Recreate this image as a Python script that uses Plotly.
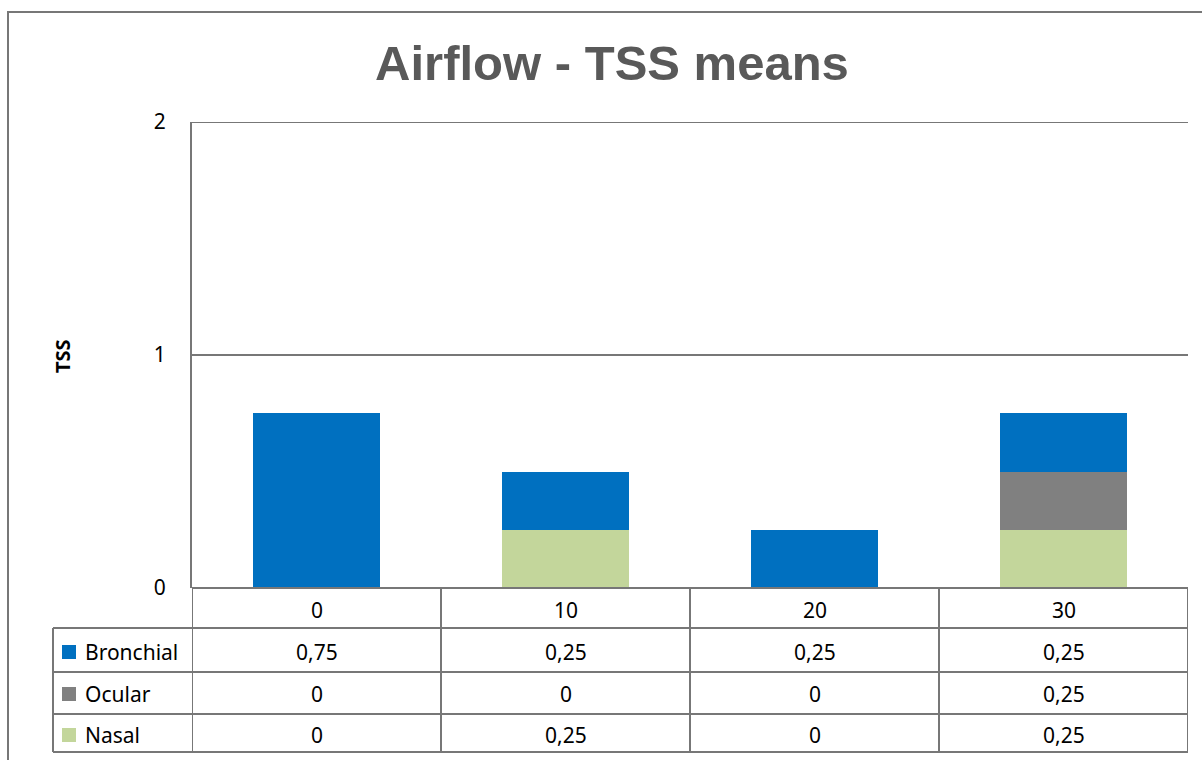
import plotly.graph_objects as go

# dados
categorias = ['0', '10', '20', '30']
series = ['Bronchial', 'Ocular', 'Nasal']
bronchial = [0.75, 0.25, 0.25, 0.25]
ocular = [0, 0, 0, 0.25]
nasal = [0, 0.25, 0, 0.25]
cores = {'Bronchial': '#0070C0', 'Ocular': '#808080', 'Nasal': '#C3D69B'}
valores = {'Bronchial': bronchial, 'Ocular': ocular, 'Nasal': nasal}
y_max = 2

W, H = 1202, 760
L, R, T, B = 192, 14, 122, 172
linha = '#777777'


def px(p):
    return (p - L) / (W - L - R)


def py(p):
    return (H - B - p) / (H - T - B)


def fmt(v):
    return f'{v:g}'.replace('.', ',')


fig = go.Figure()
# empilhamento: Nasal embaixo, Ocular no meio, Bronchial em cima
for s in ['Nasal', 'Ocular', 'Bronchial']:
    fig.add_trace(go.Bar(
        x=categorias,
        y=valores[s],
        name=s,
        marker_color=cores[s],
        marker_line_width=0,
        showlegend=False
    ))

shapes = []
annotations = []

# borda externa do gráfico (cortada à direita e embaixo)
shapes.append(dict(type='rect', xref='paper', yref='paper',
                   x0=px(8), x1=px(1230), y0=py(12), y1=py(800),
                   line=dict(color=linha, width=2)))

# linha de grade no topo (valor máximo do eixo)
shapes.append(dict(type='line', xref='paper', yref='y',
                   x0=0, x1=1, y0=y_max, y1=y_max,
                   line=dict(color=linha, width=2)))

# linhas da tabela
linhas_y = [588, 628, 672, 714, 752]
for i, yy in enumerate(linhas_y):
    x0 = px(192) if i == 0 else px(53)
    shapes.append(dict(type='line', xref='paper', yref='paper',
                       x0=x0, x1=1, y0=py(yy), y1=py(yy),
                       line=dict(color=linha, width=2)))
for i in range(len(categorias) + 1):
    shapes.append(dict(type='line', xref='x', yref='paper',
                       x0=i - 0.5, x1=i - 0.5, y0=py(588), y1=py(752),
                       line=dict(color=linha, width=2)))
shapes.append(dict(type='line', xref='paper', yref='paper',
                   x0=px(53), x1=px(53), y0=py(628), y1=py(752),
                   line=dict(color=linha, width=2)))

fonte = dict(family='Noto Sans', size=21, color='#000000')

# cabeçalho das categorias
for i, c in enumerate(categorias):
    annotations.append(dict(x=i, y=py(610), xref='x', yref='paper', text=c,
                            showarrow=False, xanchor='center', yanchor='middle', font=fonte))

# linhas das séries
centros = {'Bronchial': 652, 'Ocular': 694, 'Nasal': 735}
for s in series:
    yc = py(centros[s])
    shapes.append(dict(type='rect', xref='paper', yref='paper',
                       x0=px(62), x1=px(76), y0=yc - 7 / 466, y1=yc + 7 / 466,
                       fillcolor=cores[s], line=dict(width=0)))
    annotations.append(dict(x=px(83), y=yc, xref='paper', yref='paper', text=s,
                            showarrow=False, xanchor='left', yanchor='middle', font=fonte))
    for i, v in enumerate(valores[s]):
        annotations.append(dict(x=i, y=yc, xref='x', yref='paper', text=fmt(v),
                                showarrow=False, xanchor='center', yanchor='middle', font=fonte))

# título do eixo y
annotations.append(dict(x=px(62), y=py(356), xref='paper', yref='paper', text='<b>TSS</b>',
                        showarrow=False, textangle=-90, xanchor='center', yanchor='middle',
                        font=dict(family='Noto Sans', size=20, color='#000000')))

fig.update_layout(
    width=W, height=H,
    barmode='stack',
    bargap=0.486,
    plot_bgcolor='white',
    paper_bgcolor='white',
    margin=dict(l=L, r=R, t=T, b=B),
    title=dict(text='<b>Airflow - TSS means</b>', x=px(612), xref='paper', xanchor='center',
               y=1 - 63 / H, yanchor='middle',
               font=dict(family='Liberation Sans', size=49, color='#595959')),
    shapes=shapes,
    annotations=annotations
)
fig.update_xaxes(type='category', showticklabels=False, showgrid=False,
                 showline=False, zeroline=False, range=[-0.5, 3.5])
fig.update_yaxes(range=[0, y_max], dtick=1, showgrid=True, gridcolor=linha, gridwidth=2,
                 showline=True, linecolor=linha, linewidth=2, zeroline=False,
                 ticks='', ticklabelstandoff=20,
                 tickfont=dict(family='Noto Sans', size=21, color='#000000'))

fig.write_html('out.html', config={'displayModeBar': False},
               post_script="document.body.style.margin='0';")
